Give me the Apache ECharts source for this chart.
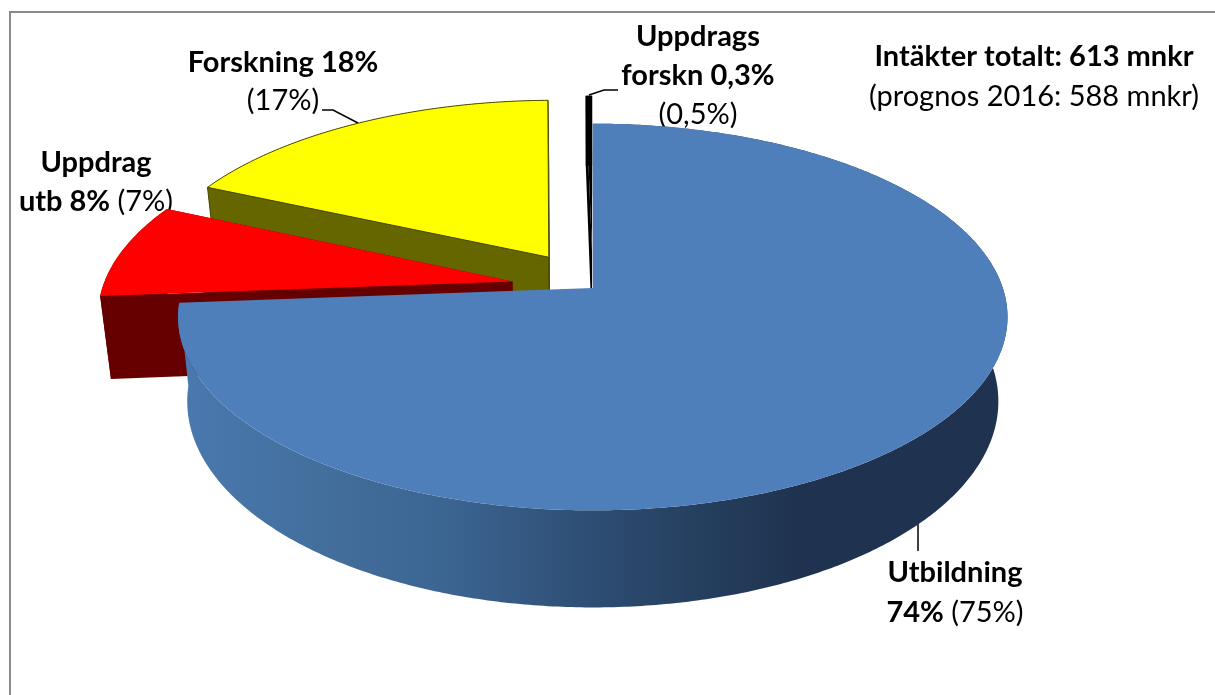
<!DOCTYPE html>
<html>
<head>
<meta charset="utf-8">
<style>
  html, body { margin: 0; padding: 0; background: #fff; }
  #chart { width: 1215px; height: 695px; }
</style>
<script src="https://cdn.jsdelivr.net/npm/echarts@6/dist/echarts.min.js"></script>
</head>
<body>
<div id="chart"></div>
<script>
// slices go clockwise from 12 o'clock
const categories = ['Utbildning', 'Uppdrag utb', 'Forskning', 'Uppdragsforskn']
const shares = [74, 8, 18, 0.3]
const prevYear = [75, 7, 17, 0.5]
const explode = [0, 0.2, 0.2, 0.2]
const drawOrder = [2, 3, 1, 0]

const topColors = ['#4f7fba', '#ff0000', '#ffff00', '#000000']
const sideColors = ['#1f3552', '#660000', '#666600', '#000000']
const edgeColors = [null, null, '#4a4a00', null]

const totalText = 'Intäkter totalt: 613 mnkr'
const forecastText = '(prognos 2016: 588 mnkr)'

// pie projection, perspective tilted towards the viewer
const PIE = { x: 592.8, y: 288, rx: 410, ry: 189, k: 0.15, depth: 82.5, shrink: 0.978 }

function project(u, v, z) {
  const w = 1 - PIE.k * v
  return [
    PIE.x + (PIE.rx * u / w) * (1 - z * (1 - PIE.shrink)),
    PIE.y + (PIE.ry * v + z * PIE.depth) / w,
  ]
}

const total = shares.reduce((a, b) => a + b, 0)

function sliceAngles(idx) {
  let sum = 0
  for (let i = 0; i < idx; i++) sum += shares[i]
  return [(sum / total) * 2 * Math.PI, ((sum + shares[idx]) / total) * 2 * Math.PI]
}

function arc(a0, a1, off, z) {
  const pts = []
  const n = Math.max(2, Math.ceil((a1 - a0) / 0.01))
  for (let i = 0; i <= n; i++) {
    const a = a0 + ((a1 - a0) * i) / n
    pts.push(project(Math.sin(a) + off[0], -Math.cos(a) + off[1], z))
  }
  return pts
}

function renderSlice(params, api) {
  const idx = api.value(0)
  const [a0, a1] = sliceAngles(idx)
  const mid = (a0 + a1) / 2
  const off = [Math.sin(mid) * explode[idx], -Math.cos(mid) * explode[idx]]
  const apexTop = project(off[0], off[1], 0)
  const apexBottom = project(off[0], off[1], 1)
  const arcTop = arc(a0, a1, off, 0)
  const arcBottom = arc(a0, a1, off, 1)

  let rimFill = sideColors[idx]
  if (idx === 0) {
    rimFill = new echarts.graphic.LinearGradient(0, 0, 1, 0, [
      { offset: 0, color: '#4a79b0' },
      { offset: 0.15, color: '#44709f' },
      { offset: 0.33, color: '#3b6491' },
      { offset: 0.51, color: '#2d4c71' },
      { offset: 0.63, color: '#253f5e' },
      { offset: 0.75, color: '#1f3350' },
      { offset: 1, color: '#1f3350' },
    ])
  }
  const edge = edgeColors[idx]
  const faceStyle = { fill: sideColors[idx], stroke: edge, lineWidth: edge ? 1 : 0 }
  const children = [
    { type: 'polygon', shape: { points: [...arcTop, ...arcBottom.slice().reverse()] }, style: { fill: rimFill } },
  ]
  // the cut faces only show on pulled-out slices
  if (explode[idx] > 0) {
    const last = arcTop.length - 1
    children.push(
      { type: 'polygon', shape: { points: [apexTop, arcTop[0], arcBottom[0], apexBottom] }, style: faceStyle },
      { type: 'polygon', shape: { points: [apexTop, arcTop[last], arcBottom[last], apexBottom] }, style: faceStyle }
    )
  }
  children.push({
    type: 'polygon',
    shape: { points: [apexTop, ...arcTop] },
    style: { fill: topColors[idx], stroke: edge, lineWidth: edge ? 1 : 0 },
  })
  return { type: 'group', children: children }
}

const FONT = 'Lato, "Noto Sans", sans-serif'
const FONT_SIZE = 29

function label(x, y, text, lineHeight) {
  const base = { fontFamily: FONT, fontSize: FONT_SIZE, fill: '#000', lineHeight: lineHeight }
  return {
    type: 'text',
    x: x,
    y: y,
    silent: true,
    style: {
      text: text,
      rich: { b: { ...base, fontWeight: 'bold' }, r: { ...base, fontWeight: 'normal' } },
      align: 'center',
      verticalAlign: 'top',
      fontFamily: FONT,
      fontSize: FONT_SIZE,
    },
  }
}

function leader(points) {
  return { type: 'polyline', silent: true, shape: { points: points }, style: { stroke: '#000', lineWidth: 1.5, fill: null } }
}

const pct = (v) => String(v).replace('.', ',') + '%'

const chart = echarts.init(document.getElementById('chart'))
chart.setOption({
  animation: false,
  backgroundColor: '#fff',
  graphic: [
    { type: 'polyline', silent: true, shape: { points: [[10, 695], [10, 12], [1215, 12]] }, style: { fill: null, stroke: '#8a8a8a', lineWidth: 2 } },
    leader([[322, 110], [333, 110], [358, 123]]),
    leader([[589, 95], [604, 90], [618, 90]]),
    leader([[918, 524], [918, 551]]),
    label(283, 44, '{b|' + categories[2] + ' ' + pct(shares[2]) + '}\n{r|(' + pct(prevYear[2]) + ')}', 38),
    label(96, 143, '{b|Uppdrag}\n{b|utb ' + pct(shares[1]) + '} {r|(' + pct(prevYear[1]) + ')}', 39),
    label(698, 17, '{b|Uppdrags}\n{b|forskn ' + pct(shares[3]) + '}\n{r|(' + pct(prevYear[3]) + ')}', 39),
    label(1034, 37, '{b|' + totalText + '}\n{r|' + forecastText + '}', 40),
    label(955, 553, '{b|' + categories[0] + '}\n{b|' + pct(shares[0]) + '} {r|(' + pct(prevYear[0]) + ')}', 40),
  ],
  series: [
    {
      type: 'custom',
      coordinateSystem: 'none',
      renderItem: renderSlice,
      data: drawOrder.map((i) => ({ name: categories[i], value: [i, shares[i]] })),
    },
  ],
})
</script>
</body>
</html>
